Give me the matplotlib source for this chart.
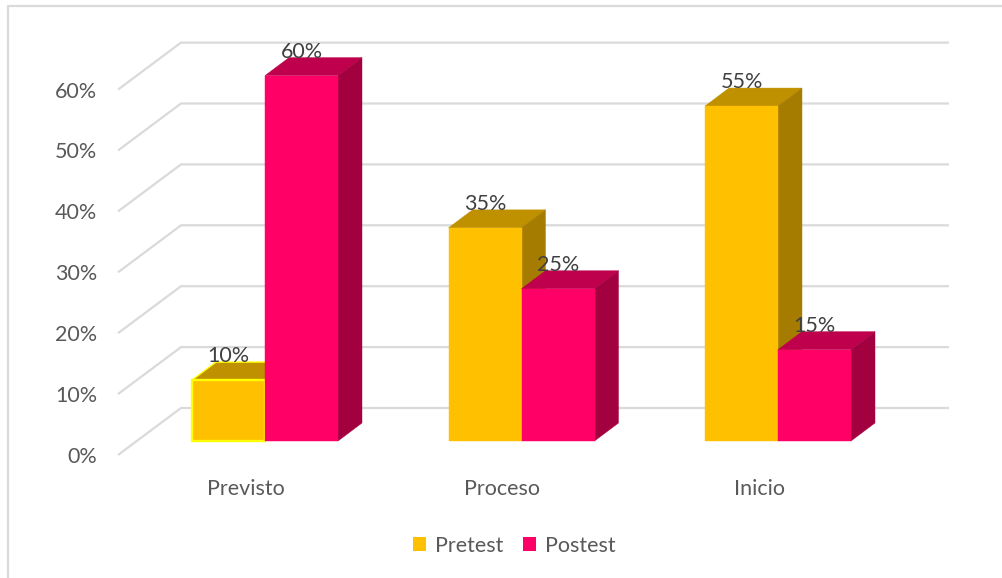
import matplotlib
matplotlib.use("Agg")
import matplotlib.pyplot as plt
from matplotlib.patches import Polygon, Patch, Rectangle
from matplotlib.lines import Line2D

categories = ["Previsto", "Proceso", "Inicio"]
series_names = ["Pretest", "Postest"]
pretest = [10, 35, 55]
postest = [60, 25, 15]
y_ticks = [0, 10, 20, 30, 40, 50, 60]

W, H = 1003, 578
plt.rcParams["font.family"] = ["Lato", "DejaVu Sans"]
fig = plt.figure(figsize=(W / 100, H / 100), dpi=100, facecolor="white")

# plot area in pixels
L, R, T, B = 118, 949, 42, 455
ax = fig.add_axes([L / W, 1 - B / H, (R - L) / W, (B - T) / H])
PX_Y = 6.09   # px per percent
PX_X = 256.5  # px per category
x0 = (L - 265) / PX_X
ax.set_xlim(x0, x0 + (R - L) / PX_X)
ax.set_ylim(0, (B - T) / PX_Y)
ax.patch.set_alpha(0)
for s in ax.spines.values():
    s.set_visible(False)

grid_c = "#DADADA"
wall_dx, wall_dy = 63 / PX_X, 47 / PX_Y
for v in y_ticks:
    ax.plot([x0, x0 + wall_dx, x0 + (R - L) / PX_X], [v, v + wall_dy, v + wall_dy],
            color=grid_c, lw=1.6, zorder=1, solid_capstyle="butt", clip_on=False)

bar_w = 73 / PX_X
base = 14 / PX_Y
d_x, d_y = 24 / PX_X, 18 / PX_Y
styles = {
    0: dict(front="#FFC000", top="#BF9000", side="#A67C00"),
    1: dict(front="#FF0066", top="#BF004D", side="#A30040"),
}

def box(xl, val, st, z, edge=None):
    b, t = base, base + val
    xr = xl + bar_w
    ax.add_patch(Polygon([(xl, t), (xr, t), (xr + d_x, t + d_y), (xl + d_x, t + d_y)],
                         fc=st["top"], ec=edge or st["top"], lw=1.0 if edge else 0.3, zorder=z, clip_on=False))
    ax.add_patch(Polygon([(xr, b), (xr + d_x, b + d_y), (xr + d_x, t + d_y), (xr, t)],
                         fc=st["side"], ec=st["side"], lw=0.3, zorder=z, clip_on=False))
    ax.add_patch(Rectangle((xl, b), bar_w, val, fc=st["front"], ec=edge or st["front"],
                           lw=1.7 if edge else 0.3, zorder=z + 0.1, clip_on=False))

lab_c = "#404040"
lab_up = 24 / PX_Y
for i in range(len(categories)):
    box(i - bar_w, pretest[i], styles[0], 3 + i, edge="#FFFF00" if i == 0 else None)
    box(i, postest[i], styles[1], 3.5 + i)
    ax.text(i - bar_w / 2, base + pretest[i] + lab_up, f"{pretest[i]}%", ha="center",
            va="center", fontsize=15.5, color=lab_c, zorder=10)
    ax.text(i + bar_w / 2, base + postest[i] + lab_up, f"{postest[i]}%", ha="center",
            va="center", fontsize=15.5, color=lab_c, zorder=10)

ax.set_yticks(y_ticks)
ax.set_yticklabels([f"{v}%" for v in y_ticks], fontsize=15.5, color="#595959")
ax.set_xticks([i - 19 / PX_X for i in range(len(categories))])
ax.set_xticklabels(categories, fontsize=15.5, color="#595959")
ax.tick_params(axis="both", length=0)
ax.tick_params(axis="y", pad=15)
ax.tick_params(axis="x", pad=17)

handles = [Patch(fc=styles[0]["front"], ec="none"), Patch(fc=styles[1]["front"], ec="none")]
fig.legend(handles, series_names, loc="center", bbox_to_anchor=(514 / W, 1 - 546 / H), ncol=2,
           frameon=False, fontsize=15.5, labelcolor="#595959", handlelength=0.62, handleheight=0.62,
           handletextpad=0.4, columnspacing=0.9)

# chart frame: left and top edges only
fig.add_artist(Line2D([8 / W, 8 / W, 1], [0, 1 - 6 / H, 1 - 6 / H], color="#DADADA", lw=1.6))

fig.savefig("out.png", dpi=100, facecolor="white")
